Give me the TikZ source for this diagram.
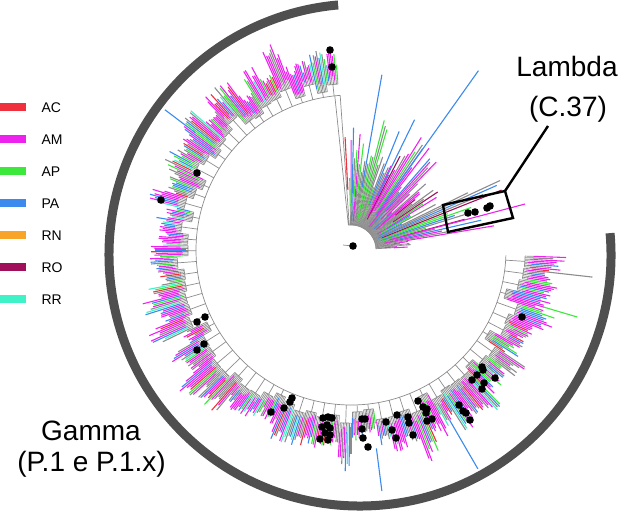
\documentclass[tikz,border=0pt]{standalone}
\usepackage{fontspec}
\setmainfont{Liberation Sans}
\definecolor{ac}{HTML}{F0303C}
\definecolor{am}{HTML}{EE22EE}
\definecolor{ap}{HTML}{3CE83C}
\definecolor{pa}{HTML}{3C8AEE}
\definecolor{rn}{HTML}{F7A428}
\definecolor{ro}{HTML}{A0105A}
\definecolor{rr}{HTML}{40F2C8}
\definecolor{br}{HTML}{8C8C8C}
\definecolor{ring}{HTML}{4F4F4F}
\def\gpal{{"am","am","am","am","am","am","am","am","am","br","br","br","br","pa","pa","pa","ap","ap","ac","rr"}}
\def\fpal{{"br","br","br","br","am","am","am","ap","ap","pa","pa","ro"}}
\begin{document}
\begin{tikzpicture}[x=1pt,y=-1pt,
    branch/.style={br,line width=.7pt},
    tip/.style={line width=1.1pt},
    frame/.style={black,line width=2.4pt,line join=miter},
    lbl/.style={font=\fontsize{28}{30}\selectfont,anchor=base},
    key/.style={font=\fontsize{14}{16}\selectfont,anchor=base west}]
  \useasboundingbox (0,0) rectangle (620,516);
  \pgfmathsetseed{4217}
  \draw[ring,line width=9pt] (360,255) ++(-95:251) arc[start angle=-95,end angle=-365,radius=251];
  \begin{scope}[shift={(351,250)}]
    \draw[branch] (-96:25) arc[start angle=-96,end angle=-2,radius=25];
    \draw[branch] (-94:25) -- (-94:155) (-96:25) -- (-96:155);
    \draw[branch] (2:155) arc[start angle=2,end angle=266,radius=155];
    \foreach \kk in {0,...,65}{
      \pgfmathsetmacro\astart{2+4*\kk}
      \pgfmathsetmacro\aend{\astart+3.5}
      \pgfmathsetmacro\amid{\astart+1.75}
      \pgfmathsetmacro\rc{160+16*rnd}
      \pgfmathsetmacro\lenk{18+26*rnd}
      \draw[branch] (\amid:155) -- (\amid:\rc) (\astart:\rc) arc[start angle=\astart,end angle=\aend,radius=\rc];
      \foreach \jj in {0,...,7}{
        \pgfmathsetmacro\ta{\astart+.5*\jj}
        \pgfmathsetmacro\rmid{\rc+2+7*rnd}
        \pgfmathsetmacro\rend{\rmid+\lenk*(.55+.45*rnd)}
        \pgfmathtruncatemacro\cidx{random(0,19)}
        \pgfmathsetmacro\col{\gpal[\cidx]}
        \draw[branch] (\ta:\rc) -- (\ta:\rmid);
        \draw[tip,\col] (\ta:\rmid) -- (\ta:\rend);
      }
    }
    \foreach \ta in {3,4.1,...,92}{
      \pgfmathsetmacro\mx{\ta<9 ? 62 : (\ta<27 ? 170 : (\ta<45 ? 112 : 138))}
      \pgfmathsetmacro\ra{28+30*rnd}
      \pgfmathsetmacro\rb{\ra+(\mx-\ra)*(.3+.7*rnd)}
      \pgfmathtruncatemacro\cidx{random(0,11)}
      \pgfmathsetmacro\col{\fpal[\cidx]}
      \draw[branch] (-\ta:25) -- (-\ta:\ra);
      \draw[tip,\col] (-\ta:\ra) -- (-\ta:\rb);
    }
    \foreach \ang/\ra/\rb/\cl in {-54.6/60/220/pa,-80/64/178/pa,-64/60/145/pa,-14.8/40/180/am,-93/60/113/ac,
        82.7/200/243/pa,59.9/197/253/pa,217/195/233/pa,231/180/208/ap,16.5/200/236/ap,6.4/190/243/br}
      \draw[tip,\cl] (\ang:\ra) -- (\ang:\rb);
  \end{scope}
  \draw[branch] (343,245) -- (353,246);
  \foreach \p in {(353,246),(330,50),(332,67),(197,173),(161,200),(197,322),(205,317),(204,344),(197,350),
      (271,412),(284,408),(292,398),(290,402),(323,418),(328,417),(332,418),(322,427),(327,425),(330,428),
      (325,433),(330,435),(320,439),(328,440),(362,419),(365,419),(362,429),(363,438),(368,447),
      (386,422),(392,430),(397,415),(396,438),(408,417),(409,423),(413,435),(418,401),(423,407),(427,409),
      (426,413),(427,421),(432,419),(459,405),(463,411),(466,413),(470,420),(472,380),(477,375),(482,367),
      (483,370),(484,383),(482,389),(495,378),(522,317),(468,213),(475,212),(487,208),(490,206)}
    \fill \p circle (3.8);
  \coordinate (bnw) at (443,205);
  \coordinate (bne) at (505,191);
  \coordinate (bse) at (513,218);
  \coordinate (bsw) at (448,232);
  \draw[frame] (bnw) -- (bne) -- (bse) -- (bsw) -- cycle;
  \node[lbl] (lam) at (567,77) {Lambda};
  \node[lbl] (lamid) at (568,117) {(C.37)};
  \coordinate (lamend) at (548,126);
  \draw[frame] (bne) -- (lamend);
  \node[lbl] (gam) at (91,440) {Gamma};
  \node[lbl] (gamid) at (91.5,471) {(P.1 e P.1.x)};
  \foreach \cl/\nm [count=\i from 0] in {ac/AC,am/AM,ap/AP,pa/PA,rn/RN,ro/RO,rr/RR}{
    \draw[\cl,line width=8pt] (0,106.8+32.1*\i) -- (26,106.8+32.1*\i);
    \node[key] (k\nm) at (38,112+32.1*\i) {\nm};
  }
\end{tikzpicture}
\end{document}
